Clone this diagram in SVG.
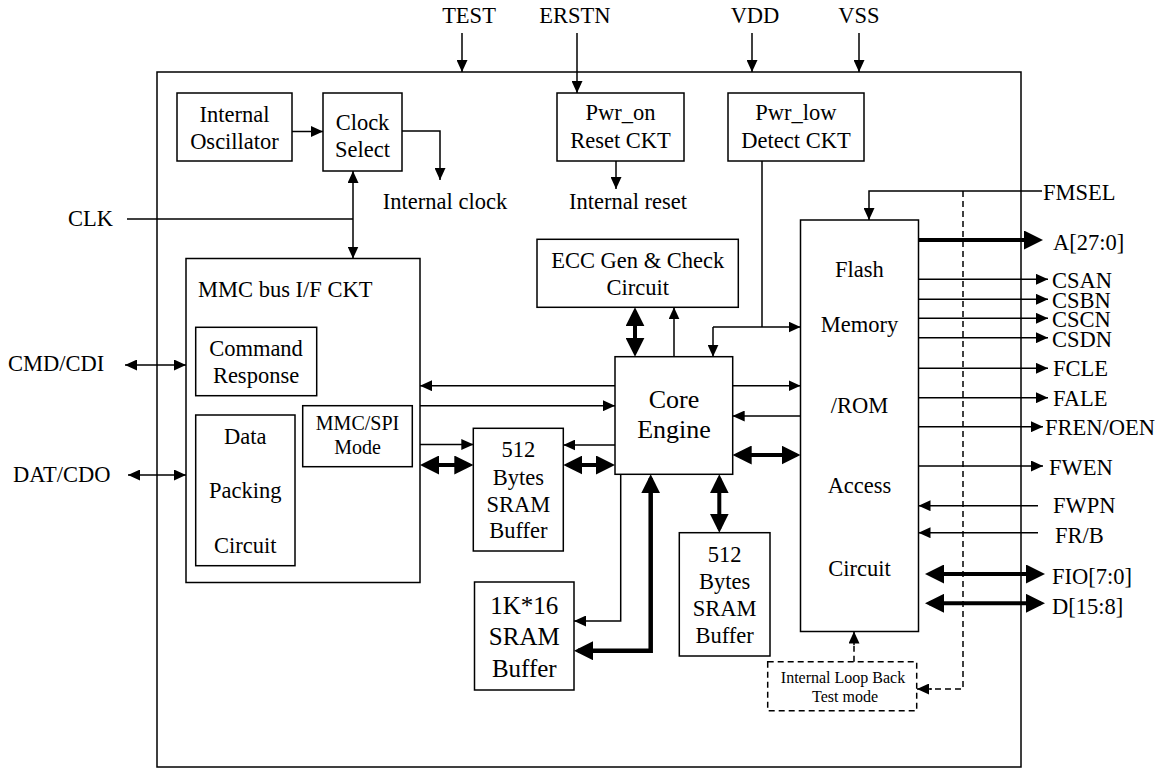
<svg xmlns="http://www.w3.org/2000/svg" width="1155" height="769" viewBox="0 0 1155 769">
<style>
.t{font-family:"Liberation Serif","Times New Roman",serif;font-size:22.5px;fill:#000}
.c{text-anchor:middle}
.s20{font-size:20px}
.s25{font-size:25px}
.s26{font-size:26px}
.s16{font-size:16px}
.bx{fill:#fff;stroke:#000;stroke-width:1.5}
.ln{fill:none;stroke:#000;stroke-width:1.5}
.bd{fill:none;stroke:#000;stroke-width:4}
.ds{stroke-dasharray:6 4}
.ae{marker-end:url(#ah)}
.a2{marker-start:url(#ah);marker-end:url(#ah)}
.be{marker-end:url(#bh)}
.b2{marker-start:url(#bh);marker-end:url(#bh)}
</style>
<defs>
<marker id="ah" markerUnits="userSpaceOnUse" markerWidth="12" markerHeight="11" viewBox="0 0 12 11" refX="12" refY="5.5" orient="auto-start-reverse"><path d="M0,0 L12,5.5 L0,11 z" fill="#000"/></marker>
<marker id="bh" markerUnits="userSpaceOnUse" markerWidth="19" markerHeight="19" viewBox="0 0 19 19" refX="15" refY="9.5" orient="auto-start-reverse"><path d="M0,0 L19,9.5 L0,19 z" fill="#000"/></marker>
</defs>
<rect width="1155" height="769" fill="#fff"/>
<g id="chip"><rect x="157" y="72" width="864" height="695" fill="none" stroke="#000" stroke-width="1.5"/></g>

<g id="pins" class="t">
<text x="469" y="23" class="c">TEST</text>
<text x="575" y="23" class="c">ERSTN</text>
<text x="755" y="23" class="c">VDD</text>
<text x="859" y="23" class="c">VSS</text>
<text x="113" y="226" text-anchor="end">CLK</text>
<text x="8" y="371">CMD/CDI</text>
<text x="13" y="482">DAT/CDO</text>
<text x="1043" y="200">FMSEL</text>
<text x="1053" y="250">A[27:0]</text>
<text x="1052" y="288">CSAN</text>
<text x="1052" y="307.5">CSBN</text>
<text x="1052" y="327">CSCN</text>
<text x="1052" y="346.5">CSDN</text>
<text x="1053" y="376">FCLE</text>
<text x="1053" y="405.5">FALE</text>
<text x="1045" y="435">FREN/OEN</text>
<text x="1049" y="475">FWEN</text>
<text x="1053" y="513">FWPN</text>
<text x="1055" y="543">FR/B</text>
<text x="1052" y="584">FIO[7:0]</text>
<text x="1052" y="613.5">D[15:8]</text>
<text x="445" y="209" class="c">Internal clock</text>
<text x="628" y="208.5" class="c">Internal reset</text>
</g>

<g id="osc"><rect x="177" y="93" width="115" height="68" class="bx"/>
<text class="t c" x="234.5" y="121.5">Internal</text><text class="t c" x="234.5" y="149">Oscillator</text></g>
<g id="clksel"><rect x="323" y="93" width="79" height="78" class="bx"/>
<text class="t c" x="362.5" y="130">Clock</text><text class="t c" x="362.5" y="157">Select</text></g>
<g id="pwron"><rect x="557" y="93" width="127" height="68" class="bx"/>
<text class="t c" x="620.5" y="120">Pwr_on</text><text class="t c" x="620.5" y="148">Reset CKT</text></g>
<g id="pwrlow"><rect x="728" y="93" width="136" height="68" class="bx"/>
<text class="t c" x="796" y="120">Pwr_low</text><text class="t c" x="796" y="148">Detect CKT</text></g>

<g id="mmc"><rect x="186" y="258.5" width="234" height="324" class="bx"/>
<text class="t" x="198" y="296.5">MMC bus I/F CKT</text></g>
<g id="cmdresp"><rect x="195.7" y="327.3" width="121" height="68.4" class="bx"/>
<text class="t c" x="256" y="356">Command</text><text class="t c" x="256" y="383.3">Response</text></g>
<g id="datapack"><rect x="195.7" y="415" width="99.3" height="150.7" class="bx"/>
<text class="t c" x="245.3" y="443.5">Data</text><text class="t c" x="245.3" y="498.3">Packing</text><text class="t c" x="245.3" y="553.3">Circuit</text></g>
<g id="mmcspi"><rect x="302.7" y="405.7" width="109.6" height="61" class="bx"/>
<text class="t c s20" x="357.5" y="430">MMC/SPI</text><text class="t c s20" x="357.5" y="454">Mode</text></g>

<g id="ecc"><rect x="537" y="239.3" width="201.3" height="68" class="bx"/>
<text class="t c" x="637.7" y="268.3">ECC Gen &amp; Check</text><text class="t c" x="637.7" y="295">Circuit</text></g>
<g id="core"><rect x="615" y="356.7" width="117.7" height="117.6" class="bx"/>
<text class="t c s26" x="674" y="408.3">Core</text><text class="t c s26" x="674" y="438.3">Engine</text></g>
<g id="sram1"><rect x="473.3" y="428.3" width="90" height="122.7" class="bx"/>
<text class="t c" x="518.3" y="457.3">512</text><text class="t c" x="518.3" y="485">Bytes</text><text class="t c" x="518.3" y="512.3">SRAM</text><text class="t c" x="518.3" y="538.3">Buffer</text></g>
<g id="sram1k"><rect x="474.5" y="582" width="99.5" height="108" class="bx"/>
<text class="t c s25" x="524.3" y="614">1K*16</text><text class="t c s25" x="524.3" y="645">SRAM</text><text class="t c s25" x="524.3" y="676.7">Buffer</text></g>
<g id="sram2"><rect x="679.3" y="532.7" width="90.7" height="123.3" class="bx"/>
<text class="t c" x="724.7" y="561.7">512</text><text class="t c" x="724.7" y="589">Bytes</text><text class="t c" x="724.7" y="616">SRAM</text><text class="t c" x="724.7" y="643.3">Buffer</text></g>
<g id="flash"><rect x="800.5" y="220" width="118" height="411.5" class="bx"/>
<text class="t c" x="859.5" y="276.7">Flash</text><text class="t c" x="859.5" y="331.7">Memory</text><text class="t c" x="859.5" y="413.3">/ROM</text><text class="t c" x="859.5" y="493.3">Access</text><text class="t c" x="859.5" y="576">Circuit</text></g>
<g id="loopback"><rect x="767.7" y="661.7" width="149" height="49" class="bx ds"/>
<text class="t c s16" x="843" y="683">Internal Loop Back</text><text class="t c s16" x="845" y="701.5">Test mode</text></g>

<g id="connectors">
<path class="ln ae" d="M462,33 V72"/>
<path class="ln ae" d="M577,33 V93"/>
<path class="ln ae" d="M752,33 V72"/>
<path class="ln ae" d="M859,33 V72"/>
<path class="ln ae" d="M292,131.5 H323"/>
<path class="ln ae" d="M402,131 H440 V180"/>
<path class="ln" d="M127,219 H353"/>
<path class="ln a2" d="M353,171 V258.5"/>
<path class="ln ae" d="M616,161 V189"/>
<path class="ln" d="M762,161 V327"/>
<path class="ln ae" d="M713,327 H800.5"/>
<path class="ln ae" d="M713,327 V356.7"/>
<path class="ln ae" d="M1042,191 H869 V220"/>
<path class="ln ds" d="M963,191 V689 H930"/>
<path class="ln ae" d="M932,689 H917"/>
<path class="ln ds" d="M854,661.7 V643"/>
<path class="ln ae" d="M854,645 V631.5"/>
<path class="ln a2" d="M125,365 H186"/>
<path class="ln a2" d="M128,475 H186"/>
<path class="ln ae" d="M674,356.7 V307.3"/>
<path class="bd b2" d="M635,311.3 V352.7"/>
<path class="ln ae" d="M615,385.7 H420"/>
<path class="ln ae" d="M420,405.7 H615"/>
<path class="ln ae" d="M732.7,385.7 H800.5"/>
<path class="ln ae" d="M800.5,416 H732.7"/>
<path class="bd b2" d="M736.7,455 H796.5"/>
<path class="ln ae" d="M420,444.5 H473.3"/>
<path class="bd b2" d="M424,465 H469.3"/>
<path class="ln ae" d="M615,445 H563.3"/>
<path class="bd b2" d="M567.3,465 H611"/>
<path class="ln ae" d="M620.7,474.3 V621 H574"/>
<path class="bd b2" style="stroke-width:4.5" d="M650.7,478.3 V650.7 H578"/>
<path class="bd b2" d="M719.3,478.3 V528.7"/>
<path class="bd be" d="M918.5,240 H1039"/>
<path class="ln ae" d="M918.5,279.3 H1048"/>
<path class="ln ae" d="M918.5,299.3 H1048"/>
<path class="ln ae" d="M918.5,318.3 H1048"/>
<path class="ln ae" d="M918.5,337.7 H1048"/>
<path class="ln ae" d="M918.5,368.3 H1048"/>
<path class="ln ae" d="M918.5,397.7 H1048"/>
<path class="ln ae" d="M918.5,426.7 H1043"/>
<path class="ln ae" d="M918.5,466 H1043"/>
<path class="ln ae" d="M1038,505.7 H918.5"/>
<path class="ln ae" d="M1038,532.7 H918.5"/>
<path class="bd b2" d="M929,574 H1041"/>
<path class="bd b2" d="M929,603.3 H1041"/>
</g>
</svg>
